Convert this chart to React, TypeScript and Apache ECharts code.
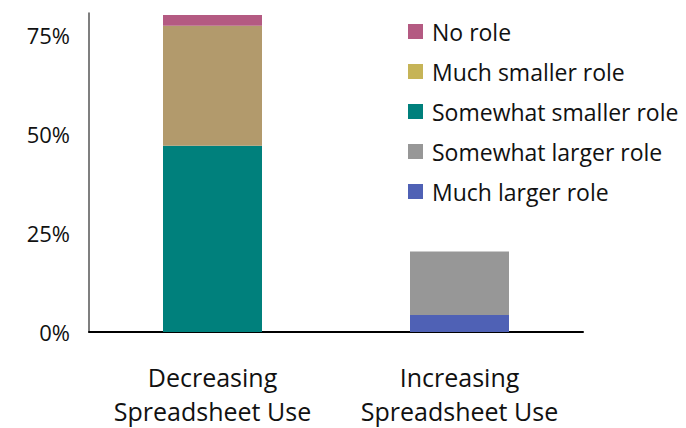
import React, { useEffect, useRef } from "react";
import * as echarts from "echarts";

const categories = ["Decreasing\nSpreadsheet Use", "Increasing\nSpreadsheet Use"];
const seriesNames = [
  "Much larger role",
  "Somewhat larger role",
  "Somewhat smaller role",
  "Much smaller role",
  "No role",
];
const muchLarger = [0, 4.3];
const somewhatLarger = [0, 16];
const somewhatSmaller = [47, 0];
const muchSmaller = [30.3, 0];
const noRole = [2.7, 0];
const yTicks = [0, 25, 50, 75];

const barColors = ["#4F61B5", "#979797", "#00807C", "#B29A6C", "#B45A82"];
const legendColors = ["#4F61B5", "#979797", "#00807C", "#C6B457", "#B45A82"];
const legendOrder = [
  "No role",
  "Much smaller role",
  "Somewhat smaller role",
  "Somewhat larger role",
  "Much larger role",
];

const FONT = "Open Sans";

export default function App() {
  const ref = useRef<HTMLDivElement>(null);

  useEffect(() => {
    if (!ref.current) return;
    const chart = echarts.init(ref.current, undefined, { renderer: "svg" });
    const values = [muchLarger, somewhatLarger, somewhatSmaller, muchSmaller, noRole];
    chart.setOption({
      animation: false,
      grid: { left: 89, right: 103, top: 13, bottom: 92, containLabel: false },
      legend: {
        orient: "vertical",
        left: 408,
        top: 20,
        padding: 0,
        itemWidth: 15,
        itemHeight: 15,
        itemGap: 17,
        icon: "rect",
        textStyle: {
          fontFamily: FONT,
          fontSize: 23,
          color: "#111",
          lineHeight: 20,
          padding: [0, 0, 0, 4],
        },
        data: legendOrder.map((n) => ({
          name: n,
          itemStyle: { color: legendColors[seriesNames.indexOf(n)] },
        })),
      },
      xAxis: {
        type: "category",
        data: categories,
        axisLine: { show: true, lineStyle: { color: "#000", width: 2 } },
        axisTick: { show: false },
        axisLabel: {
          interval: 0,
          fontFamily: FONT,
          fontSize: 25,
          lineHeight: 34,
          color: "#111",
          margin: 28,
        },
      },
      yAxis: {
        type: "value",
        min: yTicks[0],
        max: 80.5,
        interval: 25,
        splitLine: { show: false },
        axisLine: { show: true, lineStyle: { color: "#555", width: 1.5 } },
        axisTick: { show: false },
        axisLabel: {
          fontFamily: FONT,
          fontSize: 22,
          color: "#111",
          margin: 19,
          showMaxLabel: false,
          formatter: (v: number) => (yTicks.includes(v) ? `${v}%` : ""),
        },
      },
      series: seriesNames.map((name, i) => ({
        name,
        type: "bar",
        stack: "total",
        barWidth: 99,
        data: values[i],
        itemStyle: { color: barColors[i] },
      })),
    });
    return () => chart.dispose();
  }, []);

  return (
    <div
      ref={ref}
      style={{ position: "fixed", left: 0, top: 0, width: 686, height: 428, background: "#fff" }}
    />
  );
}
